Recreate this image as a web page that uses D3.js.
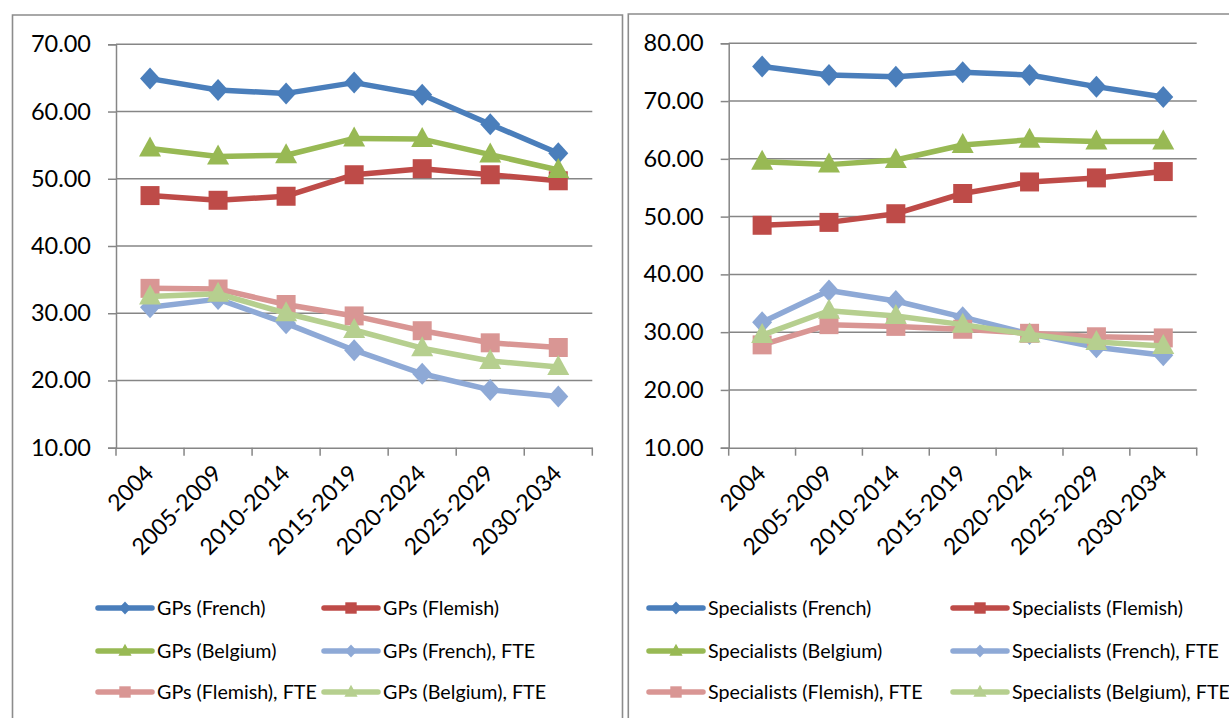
<!DOCTYPE html>
<html>
<head>
<meta charset="utf-8">
<script src="https://cdn.jsdelivr.net/npm/d3@7"></script>
<style>
  html, body { margin: 0; padding: 0; background: #fff; }
  svg { display: block; font-family: Lato, "Open Sans", sans-serif; }
</style>
</head>
<body>
<svg id="chart" width="1229" height="718"></svg>
<script>
// ---------- data ----------
const categories = ["2004", "2005-2009", "2010-2014", "2015-2019", "2020-2024", "2025-2029", "2030-2034"];

const gpTicks = [10, 20, 30, 40, 50, 60, 70];
const specTicks = [10, 20, 30, 40, 50, 60, 70, 80];

const gpFrench       = [64.9, 63.2, 62.7, 64.3, 62.5, 58.1, 53.8];
const gpFlemish      = [47.5, 46.8, 47.4, 50.6, 51.5, 50.6, 49.7];
const gpBelgium      = [54.5, 53.3, 53.5, 56.0, 55.9, 53.6, 51.3];
const gpFrenchFTE    = [30.9, 32.1, 28.5, 24.5, 21.0, 18.6, 17.6];
const gpFlemishFTE   = [33.7, 33.6, 31.3, 29.6, 27.4, 25.6, 24.9];
const gpBelgiumFTE   = [32.5, 32.9, 30.0, 27.5, 24.8, 22.9, 22.0];

const spFrench       = [76.0, 74.5, 74.2, 75.0, 74.5, 72.5, 70.7];
const spFlemish      = [48.5, 49.0, 50.5, 54.0, 56.0, 56.7, 57.8];
const spBelgium      = [59.5, 59.0, 59.8, 62.4, 63.3, 63.0, 63.0];
const spFrenchFTE    = [31.7, 37.2, 35.4, 32.6, 29.7, 27.4, 26.0];
const spFlemishFTE   = [27.8, 31.3, 31.0, 30.5, 29.8, 29.2, 29.0];
const spBelgiumFTE   = [29.5, 33.7, 32.8, 31.3, 29.6, 28.3, 27.6];

const gpNames = ["GPs (French)", "GPs (Flemish)", "GPs (Belgium)", "GPs (French), FTE", "GPs (Flemish), FTE", "GPs (Belgium), FTE"];
const spNames = ["Specialists (French)", "Specialists (Flemish)", "Specialists (Belgium)", "Specialists (French), FTE", "Specialists (Flemish), FTE", "Specialists (Belgium), FTE"];

// ---------- styles ----------
const colors  = ["#4A7EBB", "#BE4B48", "#98B954", "#8EA9D6", "#D99694", "#B6CF8F"];
const shapes  = ["diamond", "square", "triangle", "diamond", "square", "triangle"];
const gridColor = "#868686";

const svg = d3.select("#chart");

function markerPath(shape, s) {
  if (shape === "diamond") {
    const w = 10 * s, h = 11 * s;
    return `M0,${-h}L${w},0L0,${h}L${-w},0Z`;
  }
  if (shape === "square") {
    const h = 9.5 * s;
    return `M${-h},${-h}H${h}V${h}H${-h}Z`;
  }
  const w = 11 * s, top = -12 * s, bot = 8 * s;
  return `M0,${top}L${w},${bot}L${-w},${bot}Z`;
}

function drawChart(cfg) {
  const g = svg.append("g");
  const x = d3.scaleBand().domain(categories).range([cfg.x0, cfg.x1]).paddingInner(0).paddingOuter(0);
  const y = d3.scaleLinear().domain([cfg.ticks[0], cfg.ticks[cfg.ticks.length - 1]]).range([cfg.yBottom, cfg.yTop]);

  // panel border
  g.append("path")
    .attr("d", cfg.border)
    .attr("fill", "none").attr("stroke", "#8c8c8c").attr("stroke-width", 1.6);

  // gridlines
  g.append("g").selectAll("line").data(cfg.ticks.slice(1)).join("line")
    .attr("x1", cfg.x0).attr("x2", cfg.x1)
    .attr("y1", d => y(d)).attr("y2", d => y(d))
    .attr("stroke", gridColor).attr("stroke-width", 1.5);

  // y axis
  const yAxis = g.append("g").attr("transform", `translate(${cfg.x0},0)`)
    .call(d3.axisLeft(y).tickValues(cfg.ticks).tickFormat(d3.format(".2f")).tickSize(8).tickPadding(cfg.yPad));
  yAxis.select(".domain").attr("stroke", gridColor).attr("stroke-width", 1.5);
  yAxis.selectAll(".tick line").attr("stroke", gridColor).attr("stroke-width", 1.5);
  yAxis.selectAll("text").attr("font-size", 23.5).attr("fill", "#000").attr("font-family", "Lato, sans-serif");

  // x axis
  const xAxis = g.append("g").attr("transform", `translate(0,${cfg.yBottom})`)
    .call(d3.axisBottom(x).tickSize(0).tickFormat(""));
  xAxis.select(".domain").attr("stroke", gridColor).attr("stroke-width", 1.5);
  const bounds = [cfg.x0].concat(categories.map(c => x(c) + x.bandwidth()));
  g.append("g").selectAll("line").data(bounds).join("line")
    .attr("x1", d => d).attr("x2", d => d)
    .attr("y1", cfg.yBottom).attr("y2", cfg.yBottom + 8)
    .attr("stroke", gridColor).attr("stroke-width", 1.5);

  g.append("g").selectAll("text").data(categories).join("text")
    .attr("transform", d => `translate(${x(d) + x.bandwidth() / 2 + 5},${cfg.yBottom + 27}) rotate(-45)`)
    .attr("text-anchor", "end")
    .attr("font-size", 23)
    .attr("fill", "#000")
    .text(d => d);

  // series
  const line = d3.line().x((d, i) => x(categories[i]) + x.bandwidth() / 2).y(d => y(d));
  cfg.series.forEach((vals, si) => {
    const sg = g.append("g");
    sg.append("path").attr("d", line(vals))
      .attr("fill", "none").attr("stroke", colors[si]).attr("stroke-width", 5.5)
      .attr("stroke-linejoin", "round").attr("stroke-linecap", "round");
    sg.selectAll("path.m").data(vals).join("path").attr("class", "m")
      .attr("transform", (d, i) => `translate(${x(categories[i]) + x.bandwidth() / 2},${y(d)})`)
      .attr("d", markerPath(shapes[si], 1))
      .attr("fill", colors[si]);
  });

  // legend
  const lg = g.append("g");
  cfg.names.forEach((name, i) => {
    const col = i % 2, row = Math.floor(i / 2);
    const lx = cfg.legX[col], ly = cfg.legY[row];
    lg.append("line").attr("x1", lx).attr("x2", lx + 54).attr("y1", ly).attr("y2", ly)
      .attr("stroke", colors[i]).attr("stroke-width", 5.5).attr("stroke-linecap", "round");
    lg.append("path").attr("transform", `translate(${lx + 27},${ly})`)
      .attr("d", markerPath(shapes[i], 0.6)).attr("fill", colors[i]);
    lg.append("text").attr("x", lx + 59).attr("y", ly).attr("dy", "0.35em")
      .attr("font-size", 19.7).attr("fill", "#000").text(name);
  });
}

drawChart({
  x0: 116, x1: 592.3, yTop: 44.3, yBottom: 447.7,
  ticks: gpTicks, yPad: 17,
  series: [gpFrench, gpFlemish, gpBelgium, gpFrenchFTE, gpFlemishFTE, gpBelgiumFTE],
  names: gpNames,
  legX: [98, 324], legY: [608, 651, 692],
  border: "M12.5,720V15H622.5V720"
});

drawChart({
  x0: 728.7, x1: 1196.7, yTop: 43.3, yBottom: 447.7,
  ticks: specTicks, yPad: 17,
  series: [spFrench, spFlemish, spBelgium, spFrenchFTE, spFlemishFTE, spBelgiumFTE],
  names: spNames,
  legX: [649, 953], legY: [608, 651, 692],
  border: "M628.3,720V14H1232"
});
</script>
</body>
</html>
